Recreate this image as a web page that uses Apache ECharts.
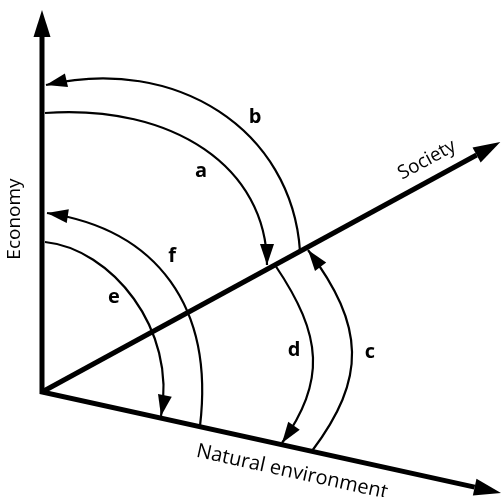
<!DOCTYPE html>
<html>
<head>
<meta charset="utf-8">
<script src="https://cdn.jsdelivr.net/npm/echarts@6/dist/echarts.min.js"></script>
<style>
  html, body { margin: 0; padding: 0; background: #fff; }
  #chart { width: 501px; height: 497px; }
</style>
</head>
<body>
<div id="chart"></div>
<script>
// three axes from one origin: angle in degrees, length in data units
const axisNames = ['Economy', 'Society', 'Natural environment'];
const axisAngles = [90, 28.6, -12.4];
const axisLengths = [382, 522, 470];
const axisLabelPos = [[-27, 173], [385, 232], [250, -80]];
const axisLabelAngles = [90, 28.6, -12.4];
const axisLabelSizes = [19, 19, 20];

// arcs between the axes: start, corner (where the end tangents meet), end = arrow tip
const arcNames = ['a', 'b', 'c', 'd', 'e', 'f'];
const arcStarts = [[3, 279], [258, 141], [270, -59], [233, 127], [3, 150], [158, -34]];
const arcCorners = [[225, 294.5], [243, 362], [343.4, 38.8], [297.4, 31.6], [149, 135], [180.4, 152.7]];
const arcEnds = [[225, 127], [4, 307], [266, 142], [240, -51], [119, -24], [5, 179]];
// how far each handle reaches toward the corner (start side, end side)
const arcBulge = [[0.58, 0.58], [0.547, 0.547], [0.743, 0.743], [0.755, 0.755], [0.45, 0.55], [0.633, 0.633]];
const arcLabelPos = [[159, 221], [213, 275], [328, 40], [252, 42], [72, 95], [130, 136]];

const rad = d => d * Math.PI / 180;

// arrow head: tip + a point behind it gives the direction
function arrowHead(tip, from, len, half) {
  const dx = tip[0] - from[0], dy = tip[1] - from[1];
  const n = Math.sqrt(dx * dx + dy * dy) || 1;
  const ux = dx / n, uy = dy / n;
  const bx = tip[0] - ux * len, by = tip[1] - uy * len;
  return {
    base: [bx, by],
    poly: [tip, [bx - uy * half, by + ux * half], [bx + uy * half, by - ux * half]]
  };
}

function renderAxes(params, api) {
  const o = api.coord([0, 0]);
  const tips = axisAngles.map((a, i) =>
    api.coord([axisLengths[i] * Math.cos(rad(a)), axisLengths[i] * Math.sin(rad(a))]));
  const heads = tips.map(t => arrowHead(t, o, 27, 8.5));
  const children = [
    // economy and nature share the corner at the origin
    {type: 'polyline', shape: {points: [heads[0].base, o, heads[2].base]},
      style: {stroke: '#000', lineWidth: 5, fill: null, lineJoin: 'miter'}},
    {type: 'line', shape: {x1: o[0], y1: o[1], x2: heads[1].base[0], y2: heads[1].base[1]},
      style: {stroke: '#000', lineWidth: 5}}
  ];
  heads.forEach(h => children.push({type: 'polygon', shape: {points: h.poly}, style: {fill: '#000'}}));
  axisNames.forEach((name, i) => {
    const p = api.coord(axisLabelPos[i]);
    children.push({
      type: 'text', x: p[0], y: p[1], rotation: rad(axisLabelAngles[i]),
      style: {text: name, font: axisLabelSizes[i] + 'px "Open Sans"', fill: '#000', align: 'center', verticalAlign: 'middle'}
    });
  });
  return {type: 'group', children};
}

function renderArc(params, api) {
  const i = params.dataIndex;
  const p0 = api.coord(arcStarts[i]);
  const q = api.coord(arcCorners[i]);
  const p3 = api.coord(arcEnds[i]);
  const [k1, k2] = arcBulge[i];
  const c1 = [p0[0] + k1 * (q[0] - p0[0]), p0[1] + k1 * (q[1] - p0[1])];
  const c2 = [p3[0] + k2 * (q[0] - p3[0]), p3[1] + k2 * (q[1] - p3[1])];
  const head = arrowHead(p3, c2, 21, 7);
  const lp = api.coord(arcLabelPos[i]);
  return {
    type: 'group',
    children: [
      {type: 'bezierCurve',
        shape: {x1: p0[0], y1: p0[1], cpx1: c1[0], cpy1: c1[1], cpx2: c2[0], cpy2: c2[1], x2: p3[0], y2: p3[1]},
        style: {stroke: '#000', lineWidth: 2.2, fill: null}},
      {type: 'polygon', shape: {points: head.poly}, style: {fill: '#000'}},
      {type: 'text', x: lp[0], y: lp[1],
        style: {text: arcNames[i], font: 'bold 20px "Open Sans"', fill: '#000', align: 'center', verticalAlign: 'middle'}}
    ]
  };
}

const chart = echarts.init(document.getElementById('chart'));
chart.setOption({
  animation: false,
  grid: {left: 0, right: 0, top: 0, bottom: 0},
  xAxis: {type: 'value', min: -42, max: 459, show: false},
  yAxis: {type: 'value', min: -105, max: 392, show: false},
  series: [
    {type: 'custom', renderItem: renderAxes, data: [[0, 0]], silent: true},
    {type: 'custom', renderItem: renderArc, data: arcNames.map((_, i) => [i, 0]), silent: true}
  ]
});
</script>
</body>
</html>
